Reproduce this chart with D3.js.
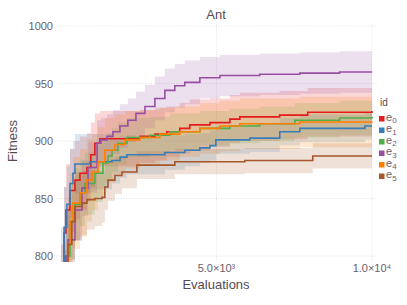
<!DOCTYPE html>
<html>
<head>
<meta charset="utf-8">
<script src="https://cdn.jsdelivr.net/npm/d3@7"></script>
<style>
  body { margin: 0; background: #fff; }
  text { font-family: "Liberation Sans", "DejaVu Sans", sans-serif; }
</style>
</head>
<body>
<div id="chart-area"></div>
<script>
var W = 407, H = 305;
var plot = { left: 56, right: 372, top: 24, bottom: 262 };

var ids = ['e0', 'e1', 'e2', 'e3', 'e4', 'e5'];
var colors = ['#e41a1c', '#377eb8', '#4daf4a', '#984ea3', '#ff7f00', '#a65628'];

// evaluations, mean fitness, half-width of the band
var e0Evals = [0, 100, 160, 290, 450, 610, 835, 960, 1090, 1250, 2540, 3020, 3400, 3820, 4140, 4790, 5430, 5750, 7030, 7935, 10000];
var e0Mean = [770, 820, 840, 857, 866, 872, 877, 888, 898, 902, 904, 906, 908, 911, 914, 916, 919, 921, 922.5, 925, 926];
var e0Spread = [40, 40, 40, 36, 34, 32, 30, 28, 26, 24, 23, 23, 22, 22, 22, 21, 21, 21, 21, 21, 21];

var e1Evals = [0, 100, 190, 290, 385, 450, 930, 1640, 1900, 2120, 3340, 3980, 4465, 4790, 4980, 6070, 7035, 7680, 9770, 10000];
var e1Mean = [790, 825, 845, 863, 872, 880, 882, 883, 886, 888, 890, 892, 894, 896, 901, 902.5, 908, 911, 913, 913];
var e1Spread = [35, 35, 33, 30, 28, 26, 24, 20, 18, 17, 15, 14, 13, 13, 12, 12, 12, 12, 12, 12];

var e2Evals = [60, 160, 290, 450, 610, 770, 1090, 1350, 1510, 1640, 1830, 2120, 2860, 3500, 4465, 5430, 6390, 7520, 8960, 10000];
var e2Mean = [770, 800, 830, 845, 855, 863, 872, 881, 887, 892, 898, 903, 905, 908, 911, 913, 915, 918, 920, 921];
var e2Spread = [35, 35, 33, 31, 29, 27, 25, 22, 20, 19, 18, 17, 16, 16, 15, 15, 15, 15, 15, 15];

var e3Evals = [0, 160, 225, 450, 675, 870, 1160, 1285, 1480, 1670, 1895, 2150, 2410, 2700, 3020, 3340, 3660, 3980, 4465, 5110, 6390, 7680, 8960, 10000];
var e3Mean = [760, 800, 814, 840, 859, 877, 898, 901, 904, 908, 913, 918, 924, 930, 937, 944, 948, 951, 955, 957, 958, 959, 960, 960];
var e3Spread = [30, 30, 28, 26, 24, 22, 20, 19, 19, 19, 19, 19, 19, 19, 19, 19, 19, 19, 18, 18, 18, 18, 18, 18];

var e4Evals = [130, 225, 290, 385, 610, 835, 1000, 1190, 1410, 1735, 2055, 2540, 3180, 3820, 4465, 5110, 5750, 7680, 10000];
var e4Mean = [770, 810, 830, 846, 855, 866, 873, 882, 892, 897, 901, 903, 906, 908, 911, 913, 915, 916.5, 917];
var e4Spread = [42, 42, 42, 40, 38, 36, 33, 30, 28, 26, 25, 24, 23, 22, 22, 22, 22, 22, 22];

var e5Evals = [100, 225, 350, 450, 675, 835, 1090, 1320, 1410, 1510, 1735, 1960, 2440, 3660, 5910, 8095, 10000];
var e5Mean = [770, 810, 830, 843, 846, 849, 850, 851, 860, 866, 870, 873, 879, 882, 883, 887, 887];
var e5Spread = [35, 35, 33, 30, 28, 26, 24, 22, 20, 18, 16, 14, 12, 11, 11, 11, 11];

var seriesEvals = [e0Evals, e1Evals, e2Evals, e3Evals, e4Evals, e5Evals];
var seriesMean = [e0Mean, e1Mean, e2Mean, e3Mean, e4Mean, e5Mean];
var seriesSpread = [e0Spread, e1Spread, e2Spread, e3Spread, e4Spread, e5Spread];

var yTicks = [800, 850, 900, 950, 1000];
var xTicks = [5000, 10000];
var xTickLabels = ['5.0×10³', '1.0×10⁴'];

var svg = d3.select('#chart-area')
	.append('svg')
	.attr('width', W)
	.attr('height', H);

var x = d3.scaleLinear()
	.domain([-160, 10000])
	.range([plot.left, plot.right]);
var y = d3.scaleLinear()
	.domain([800, 1000])
	.range([256, 26]);

svg.append('clipPath')
	.attr('id', 'clip')
	.append('rect')
	.attr('x', plot.left)
	.attr('y', plot.top)
	.attr('width', plot.right - plot.left + 1)
	.attr('height', plot.bottom - plot.top);

// grid
var grid = svg.append('g');
yTicks.forEach(t => {
	grid.append('line')
		.attr('x1', plot.left).attr('x2', plot.right + 4)
		.attr('y1', y(t)).attr('y2', y(t))
		.attr('stroke', '#d0d0e0').attr('stroke-width', 0.6)
		.attr('stroke-dasharray', '1,1.5');
});
xTicks.forEach(t => {
	grid.append('line')
		.attr('x1', x(t)).attr('x2', x(t))
		.attr('y1', plot.top).attr('y2', plot.bottom)
		.attr('stroke', '#d0d0e0').attr('stroke-width', 0.6)
		.attr('stroke-dasharray', '1,1.5');
});

var g = svg.append('g').attr('clip-path', 'url(#clip)');

var rows = ids.map((id, i) => seriesEvals[i].map((e, j) => ({
	e: e, m: seriesMean[i][j], s: seriesSpread[i][j]
})));

var area = d3.area()
	.curve(d3.curveStepAfter)
	.x(d => x(d.e))
	.y0(d => y(d.m - d.s))
	.y1(d => y(d.m + d.s));

var line = d3.line()
	.curve(d3.curveStepAfter)
	.x(d => x(d.e))
	.y(d => y(d.m));

rows.forEach((r, i) => {
	g.append('path')
		.datum(r)
		.attr('d', area)
		.attr('fill', colors[i])
		.attr('fill-opacity', 0.18);
});
rows.forEach((r, i) => {
	g.append('path')
		.datum(r)
		.attr('d', line)
		.attr('fill', 'none')
		.attr('stroke', colors[i])
		.attr('stroke-width', 1.6);
});

// axes labels
yTicks.forEach(t => {
	svg.append('text')
		.attr('x', 53)
		.attr('y', y(t) + 4)
		.attr('text-anchor', 'end')
		.attr('font-size', '11px')
		.attr('fill', '#6c606b')
		.text(t);
});
xTicks.forEach((t, i) => {
	svg.append('text')
		.attr('x', x(t))
		.attr('y', 272)
		.attr('text-anchor', 'middle')
		.attr('font-size', '11px')
		.attr('fill', '#6c606b')
		.text(xTickLabels[i]);
});

svg.append('text')
	.attr('x', 216)
	.attr('y', 289)
	.attr('text-anchor', 'middle')
	.attr('font-size', '13px')
	.attr('fill', '#564a55')
	.text('Evaluations');

svg.append('text')
	.attr('transform', 'translate(17, 141) rotate(-90)')
	.attr('text-anchor', 'middle')
	.attr('font-size', '13px')
	.attr('fill', '#564a55')
	.text('Fitness');

svg.append('text')
	.attr('x', 216)
	.attr('y', 19)
	.attr('text-anchor', 'middle')
	.attr('font-size', '13px')
	.attr('fill', '#564a55')
	.text('Ant');

// legend
var legend = svg.append('g').attr('transform', 'translate(379, 0)');
legend.append('text')
	.attr('x', 1)
	.attr('y', 106)
	.attr('font-size', '10px')
	.attr('fill', '#564a55')
	.text('id');

ids.forEach((id, i) => {
	var cy = 119 + i * 11.5;
	legend.append('rect')
		.attr('x', 0)
		.attr('y', cy - 3)
		.attr('width', 5.5)
		.attr('height', 5.5)
		.attr('fill', colors[i]);
	var t = legend.append('text')
		.attr('x', 7)
		.attr('y', cy + 1.5)
		.attr('font-size', '11px')
		.attr('fill', '#6c606b');
	t.append('tspan').text('e');
	t.append('tspan')
		.attr('dy', 2.5)
		.attr('font-size', '8px')
		.text(id.slice(1));
});
</script>
</body>
</html>
